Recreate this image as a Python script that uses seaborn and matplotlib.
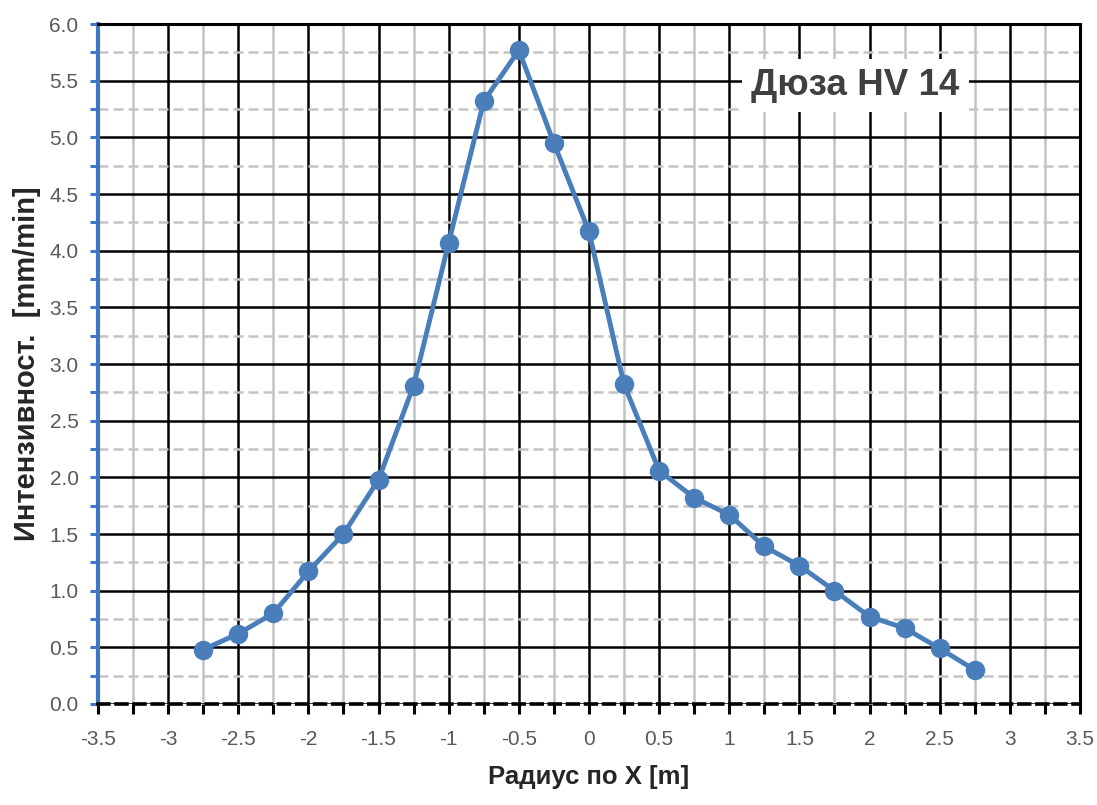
import numpy as np
import pandas as pd
import matplotlib
matplotlib.use("Agg")
import matplotlib.pyplot as plt
import seaborn as sns
from matplotlib.ticker import MultipleLocator, FuncFormatter

# Measured spray intensity profile along the X radius
radius_x = [-2.75, -2.5, -2.25, -2.0, -1.75, -1.5, -1.25, -1.0, -0.75, -0.5, -0.25, 0.0,
            0.25, 0.5, 0.75, 1.0, 1.25, 1.5, 1.75, 2.0, 2.25, 2.5, 2.75]
intensity = [0.48, 0.62, 0.80, 1.17, 1.50, 1.98, 2.81, 4.07, 5.32, 5.77, 4.95, 4.17,
             2.82, 2.06, 1.82, 1.67, 1.39, 1.22, 1.00, 0.77, 0.67, 0.49, 0.30]

nozzle_label = "Дюза HV 14"
x_label = "Радиус по X [m]"
y_label = "Интензивност.  [mm/min]"

df = pd.DataFrame({"x": radius_x, "y": intensity})

sns.set_theme(style="white")
plt.rcParams["font.family"] = ["Liberation Sans", "DejaVu Sans"]

fig = plt.figure(figsize=(10.97, 8.05), dpi=100)
ax = fig.add_axes([0.0893, 0.1255, 0.8952, 0.8445])

ax.set_xlim(-3.5, 3.5)
ax.set_ylim(0, 6.0)

# Grid: black major lines every 0.5, grey minor lines every 0.25
ax.xaxis.set_major_locator(MultipleLocator(0.5))
ax.xaxis.set_minor_locator(MultipleLocator(0.25))
ax.yaxis.set_major_locator(MultipleLocator(0.5))
ax.yaxis.set_minor_locator(MultipleLocator(0.25))

ax.grid(which="major", axis="both", color="black", linewidth=1.8, zorder=0)
ax.grid(which="minor", axis="x", color="#c4c4c4", linewidth=1.8, zorder=0)
ax.grid(which="minor", axis="y", color="#c4c4c4", linewidth=1.8,
        linestyle=(0, (4, 2)), zorder=0)
ax.set_axisbelow(True)

sns.lineplot(data=df, x="x", y="y", ax=ax, color="#4a7ebb", linewidth=3.5,
             marker="o", markersize=13, markeredgecolor="#4a7ebb",
             markeredgewidth=1, zorder=5, clip_on=False)

# Spines
for side in ("top", "right"):
    ax.spines[side].set_visible(True)
    ax.spines[side].set_color("black")
    ax.spines[side].set_linewidth(2.2)
ax.spines["left"].set_color("#3f78c0")
ax.spines["left"].set_linewidth(3.0)
ax.spines["bottom"].set_color("black")
ax.spines["bottom"].set_linewidth(2.6)
ax.spines["bottom"].set_linestyle((0, (3, 2)))

# Ticks
ax.tick_params(axis="y", which="both", direction="out", length=6, width=2.2,
               color="#3f78c0", left=True, labelsize=15, labelcolor="#595959", pad=8)
ax.tick_params(axis="x", which="both", direction="out", length=7, width=2.2,
               color="black", bottom=True, labelsize=15, labelcolor="#595959", pad=12)

ax.yaxis.set_major_formatter(FuncFormatter(lambda v, p: f"{v:.1f}"))
ax.xaxis.set_major_formatter(FuncFormatter(lambda v, p: f"{v:g}"))

ax.set_xlabel(x_label, fontsize=18.5, fontweight="bold", color="#262626", labelpad=11)
ax.set_ylabel(y_label, fontsize=21, fontweight="bold", color="#262626", labelpad=6)

ax.text(1.9, 5.46, nozzle_label, fontsize=26.5, fontweight="bold", color="#404040",
        ha="center", va="center", zorder=6,
        bbox=dict(boxstyle="square,pad=0.25", facecolor="white", edgecolor="none"))

fig.savefig("out.png", dpi=100, facecolor="white")
